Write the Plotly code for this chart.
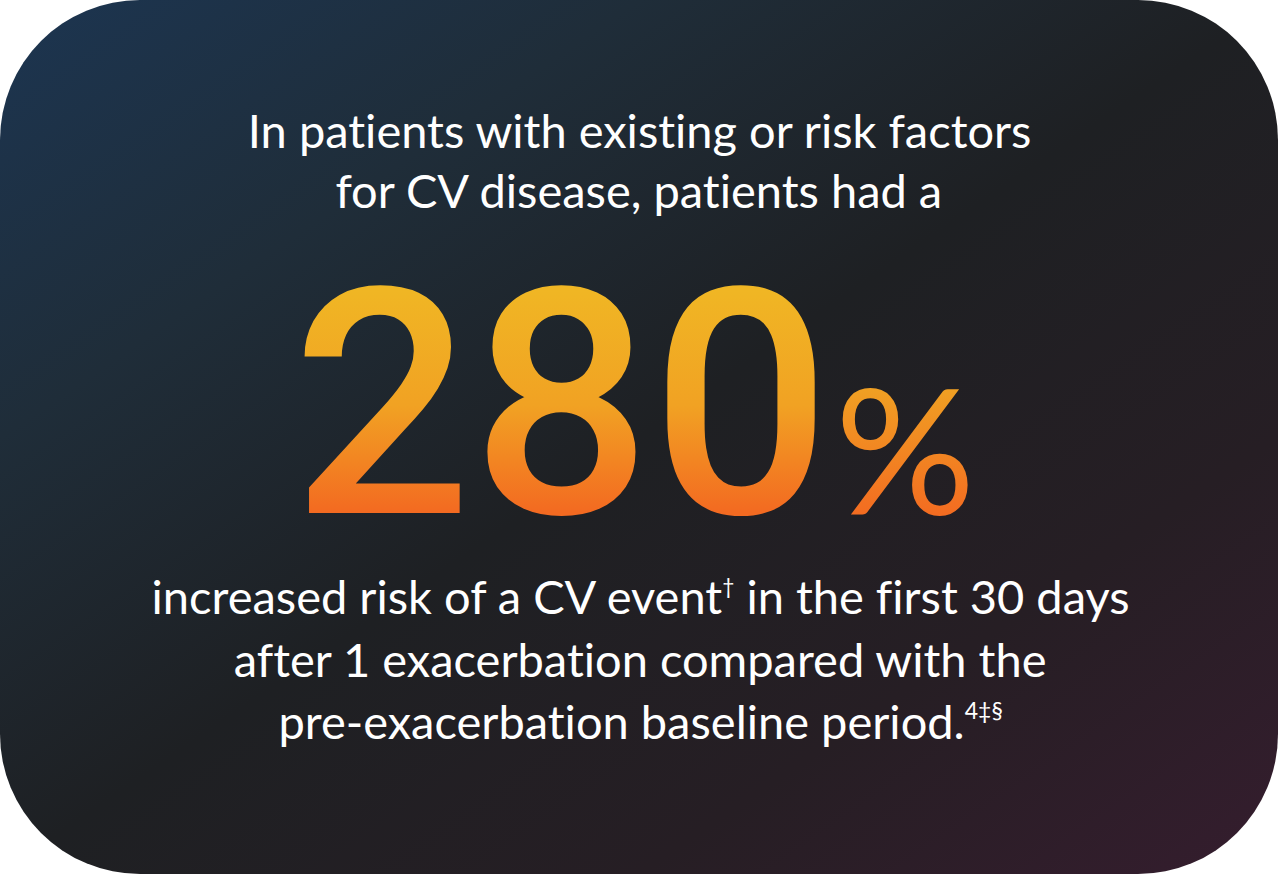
import base64
import plotly.graph_objects as go

# text content of the card
headline_lines = [
    "In patients with existing or risk factors",
    "for CV disease, patients had a",
]
stat_value = "280"
stat_unit = "%"
footer_lines = [
    "increased risk of a CV event<sup><span style='font-size:21px'>†</span></sup> in the first 30 days",
    "after 1 exacerbation compared with the",
    "pre-exacerbation baseline period.<sup><span style='font-size:23px'>4‡§</span></sup>",
]

# background gradient stops (top-left -> bottom-right)
bg_stops = [(0.0, "#1c3551"), (0.25, "#1f2d39"), (0.5, "#1e2023"), (0.75, "#261e24"), (1.0, "#351d2e")]

W, H = 1278, 874
body_font = "Lato"
body_size = 47

stops_svg = "".join("<stop offset='%s' stop-color='%s'/>" % (o, c) for o, c in bg_stops)
card_svg = (
    "<svg xmlns='http://www.w3.org/2000/svg' width='%d' height='%d' viewBox='0 0 %d %d'>"
    "<defs><linearGradient id='bg' x1='0' y1='0' x2='1' y2='1'>%s</linearGradient></defs>"
    "<rect x='0' y='0' width='%d' height='%d' rx='140' ry='140' fill='url(#bg)'/></svg>"
) % (W, H, W, H, stops_svg, W, H)
card_src = "data:image/svg+xml;base64," + base64.b64encode(card_svg.encode()).decode()

fig = go.Figure()

fig.add_layout_image(
    source=card_src, xref="paper", yref="paper", x=0, y=1,
    sizex=1, sizey=1, xanchor="left", yanchor="top",
    sizing="stretch", layer="below",
)

# baselines in pixels
head_base = [148, 208]
foot_base = [614, 677, 739]

for line, b in zip(headline_lines, head_base):
    fig.add_annotation(
        x=639, y=b + 0.213 * body_size + 2, xref="x", yref="y",
        text=line, showarrow=False, xanchor="center", yanchor="bottom",
        font=dict(family=body_font, size=body_size, color="#ffffff"),
    )

for line, b in zip(footer_lines, foot_base):
    fig.add_annotation(
        x=640, y=b + 0.213 * body_size + 2, xref="x", yref="y",
        text=line, showarrow=False, xanchor="center", yanchor="bottom",
        font=dict(family=body_font, size=body_size, color="#ffffff"),
    )

num_size = 316
fig.add_annotation(
    x=561, y=513 + 0.244 * num_size + 2, xref="x", yref="y",
    text=stat_value, showarrow=False, xanchor="center", yanchor="bottom",
    font=dict(family="Roboto", size=num_size, color="#f29a22", weight=500),
)

pct_size = 175
fig.add_annotation(
    x=833, y=515 + 0.213 * pct_size + 2, xref="x", yref="y",
    text=stat_unit, showarrow=False, xanchor="left", yanchor="bottom",
    font=dict(family=body_font, size=pct_size, color="#f28a22"),
)

fig.update_layout(
    width=W, height=H,
    margin=dict(l=0, r=0, t=0, b=0),
    paper_bgcolor="#ffffff", plot_bgcolor="rgba(0,0,0,0)",
    showlegend=False,
    xaxis=dict(range=[0, W], visible=False, fixedrange=True),
    yaxis=dict(range=[H, 0], visible=False, fixedrange=True),
)

# page margin off, no 'ti' ligatures, yellow-to-orange fill on the big number
gradient_js = """
document.body.style.margin = '0';
var gd = document.getElementById('{plot_id}');
var NS = 'http://www.w3.org/2000/svg';
var fills = {
  'num': [[0.19, '#f0b624'], [0.5, '#f1a223'], [0.79, '#f36a21']],
  'pct': [[0.22, '#f0a023'], [0.82, '#f36c21']]
};
function paint() {
  gd.querySelectorAll('text.annotation-text').forEach(function (t) {
    t.style.fontVariantLigatures = 'none';
    t.style.fontFeatureSettings = '"liga" 0, "clig" 0, "dlig" 0';
    var key = t.textContent === '280' ? 'num' : (t.textContent === '%' ? 'pct' : null);
    if (!key) return;
    var svg = t.ownerSVGElement;
    var id = 'grad-' + key;
    if (!svg.querySelector('#' + id)) {
      var defs = document.createElementNS(NS, 'defs');
      var lg = document.createElementNS(NS, 'linearGradient');
      lg.setAttribute('id', id);
      lg.setAttribute('x1', '0'); lg.setAttribute('y1', '0');
      lg.setAttribute('x2', '0'); lg.setAttribute('y2', '1');
      fills[key].forEach(function (s) {
        var st = document.createElementNS(NS, 'stop');
        st.setAttribute('offset', s[0]);
        st.setAttribute('stop-color', s[1]);
        lg.appendChild(st);
      });
      defs.appendChild(lg);
      svg.insertBefore(defs, svg.firstChild);
    }
    t.style.fill = 'url(#' + id + ')';
  });
}
paint();
gd.on('plotly_afterplot', paint);
"""

fig.write_html("out.html", post_script=gradient_js, config={"displayModeBar": False})
